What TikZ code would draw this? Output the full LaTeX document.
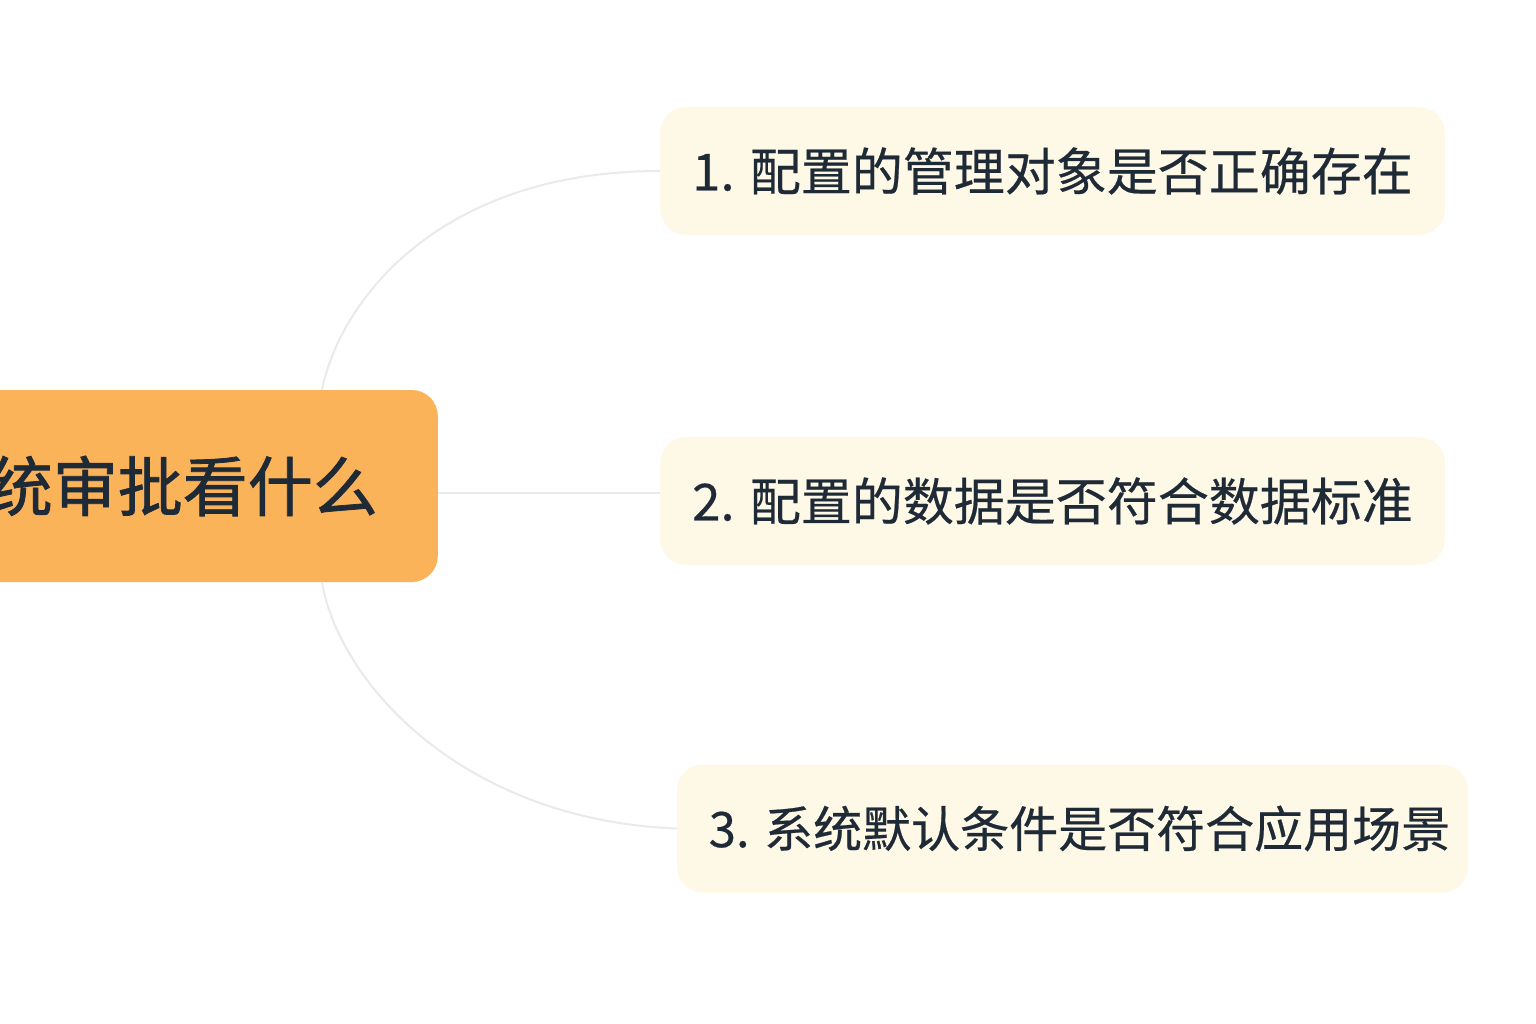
\documentclass[tikz,border=0pt]{standalone}
\usepackage{fontspec}
\newfontfamily\cjk{Noto Sans CJK SC}[FakeBold=0.4]
\newfontfamily\cjkbold{Noto Sans CJK SC}[FakeBold=1.2]
\definecolor{rootfill}{HTML}{FBB35A}
\definecolor{leaffill}{HTML}{FEF8E6}
\definecolor{inkc}{HTML}{1F2A37}
\definecolor{linkc}{HTML}{EAEAEA}
\tikzset{
  root/.style={fill=rootfill, rounded corners=26pt, minimum height=192pt,
    inner xsep=60pt, inner ysep=0pt, text=inkc,
    font=\cjkbold\fontsize{65}{70}\selectfont},
  leaf/.style={fill=leaffill, rounded corners=26pt, minimum height=128pt,
    inner sep=0pt, text=inkc, font=\cjk\fontsize{51}{60}\selectfont},
  link/.style={draw=linkc, line width=2pt}
}
\begin{document}
\begin{tikzpicture}[x=1pt, y=-1pt]
\useasboundingbox (0,0) rectangle (1536,1024);
\fill[white] (0,0) rectangle (1536,1024);
\clip (0,0) rectangle (1536,1024);
\node[root, anchor=east] (c) at (438,486) {系统审批看什么};
\node[leaf, minimum width=785pt] (n1) at (1052.5,171) {1. 配置的管理对象是否正确存在};
\node[leaf, minimum width=785pt] (n2) at (1052.5,501) {2. 配置的数据是否符合数据标准};
\node[leaf, minimum width=791pt, font=\cjk\fontsize{49}{58}\selectfont] (n3) at (1072.5,828.5) {\hspace*{14pt}3. 系统默认条件是否符合应用场景};
\coordinate (s1) at (322,390);
\coordinate (s2) at (438,493);
\coordinate (s3) at (322,582);
\draw[link] (s1) .. controls (340,300) and (440,171) .. (n1.west);
\draw[link] (s2) -- (s2 -| n2.west);
\draw[link] (s3) .. controls (338,680) and (460,820) .. (n3.west);
\end{tikzpicture}
\end{document}
